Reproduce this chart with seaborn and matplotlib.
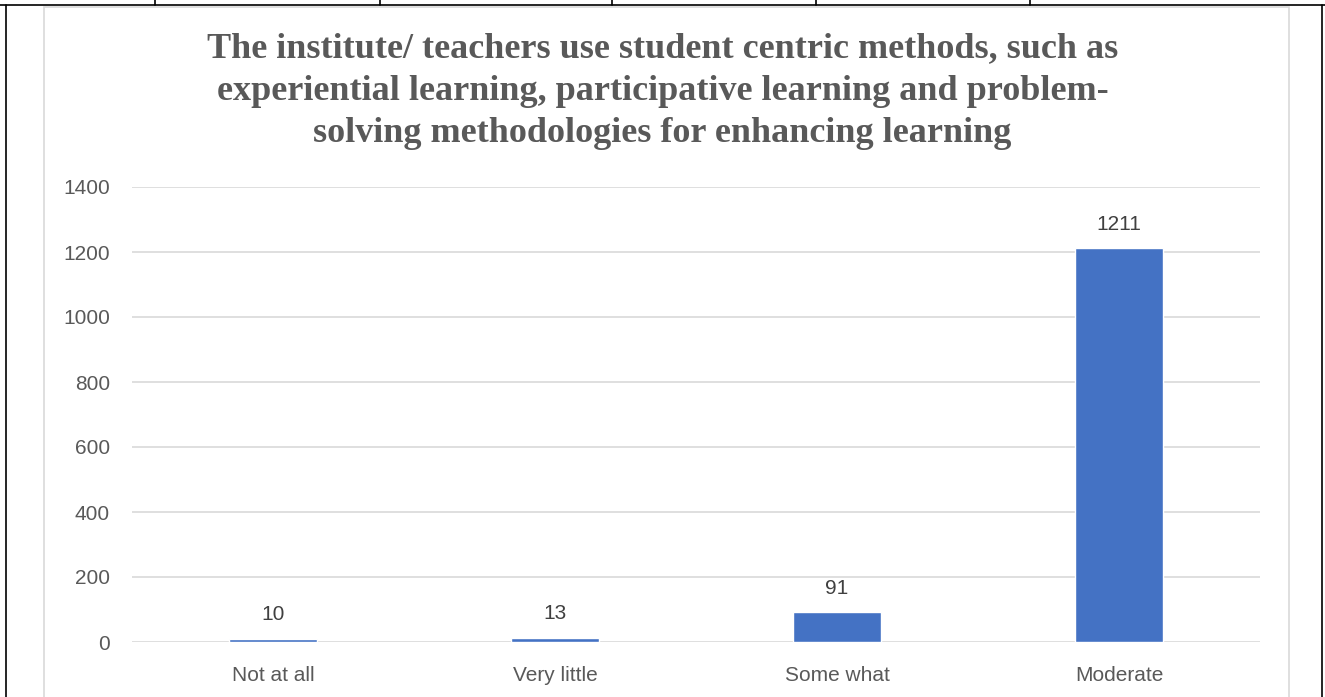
import matplotlib
matplotlib.use('Agg')
import matplotlib.pyplot as plt
import seaborn as sns
import pandas as pd
from matplotlib.lines import Line2D
from matplotlib.patches import Rectangle

# data
categories = ['Not at all', 'Very little', 'Some what', 'Moderate']
counts = [10, 13, 91, 1211]
title = ('The institute/ teachers use student centric methods, such as\n'
         'experiential learning, participative learning and problem-\n'
         'solving methodologies for enhancing learning')

df = pd.DataFrame({'category': categories, 'count': counts})

sns.set_theme(style='white')
plt.rcParams['font.family'] = ['Liberation Sans', 'DejaVu Sans']

W, H = 1325, 697
fig = plt.figure(figsize=(W / 100, H / 100), dpi=100)

# word table lines around the chart
top = 1 - 5 / H
fig.add_artist(Line2D([0, 1], [top, top], color='black', lw=1.2, transform=fig.transFigure))
for x in [6, 1322]:
    fig.add_artist(Line2D([x / W] * 2, [0, top], color='black', lw=1.2, transform=fig.transFigure))
for x in [155, 380, 612, 816, 1030]:
    fig.add_artist(Line2D([x / W] * 2, [top, 1], color='black', lw=1.2, transform=fig.transFigure))

# chart area border
fig.add_artist(Rectangle((44 / W, -0.02), (1289 - 44) / W, 1 - 7 / H + 0.02,
                         transform=fig.transFigure, facecolor='white',
                         edgecolor='#D9D9D9', lw=1.2, zorder=-1))

ax = fig.add_axes([132 / W, 1 - 642 / H, (1260 - 132) / W, (642 - 187) / H])
ax.set_zorder(2)
sns.barplot(data=df, x='category', y='count', color='#4472C4', width=0.31,
            saturation=1, ax=ax, zorder=3)

ax.set_ylim(0, 1400)
ax.set_yticks(range(0, 1401, 200))
ax.yaxis.grid(True, color='#D9D9D9', lw=1.2, zorder=0)
ax.set_axisbelow(True)
for s in ax.spines.values():
    s.set_visible(False)
ax.set_xlabel('')
ax.set_ylabel('')
ax.tick_params(axis='both', length=0, labelsize=15, labelcolor='#595959')
ax.tick_params(axis='y', pad=16)
ax.tick_params(axis='x', pad=17)
ax.set_facecolor('none')

for i, v in enumerate(counts):
    ax.text(i, v + 45, str(v), ha='center', va='bottom', fontsize=15, color='#404040')

fig.text(0.5, 1 - 91 / H, title, ha='center', va='center', fontsize=26,
         fontweight='bold', family=['Liberation Serif'], color='#595959',
         linespacing=1.38, zorder=3)

fig.savefig('out.png', dpi=100)
